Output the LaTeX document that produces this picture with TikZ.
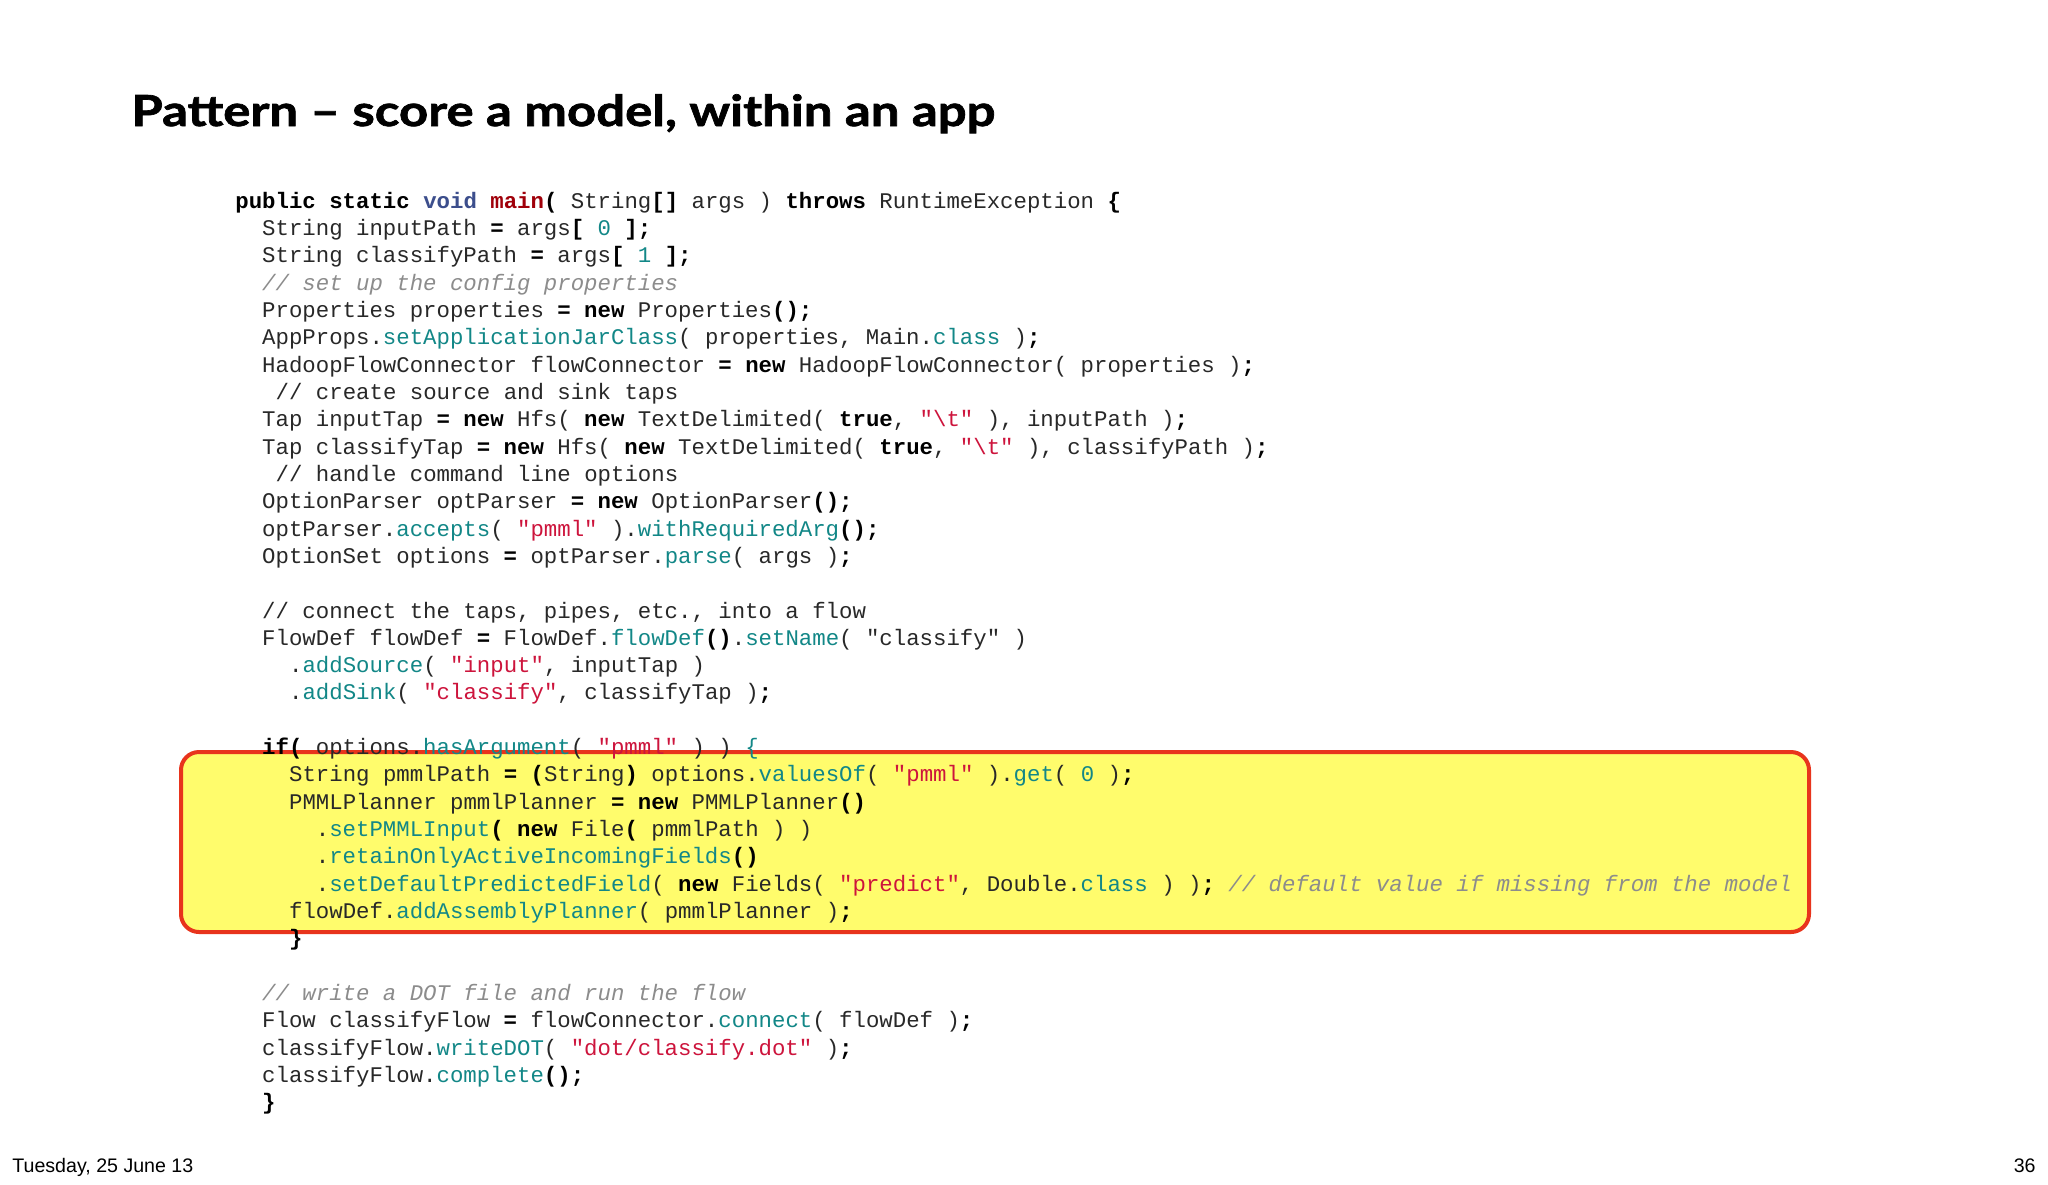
\documentclass[tikz,border=0pt]{standalone}
\usepackage{fontspec}
\setmainfont{Liberation Sans}
\setmonofont{Liberation Mono}
\newfontfamily\titlefont[FakeStretch=1.19, BoldFeatures={FakeBold=1.6}]{Lato}
\usepackage{tikz}

\definecolor{codetext}{RGB}{40,40,40}
\definecolor{codeteal}{RGB}{18,135,135}
\definecolor{codered}{RGB}{205,20,60}
\definecolor{codecmt}{RGB}{140,140,140}
\definecolor{codevoid}{RGB}{60,78,140}
\definecolor{codemain}{RGB}{160,0,10}
\definecolor{boxfill}{RGB}{255,252,108}
\definecolor{boxline}{RGB}{232,52,28}

\newcommand{\ckw}[1]{\textbf{\color{black}#1}}
\newcommand{\cp}[1]{\textbf{\color{black}#1}}
\newcommand{\cfn}[1]{\textcolor{codeteal}{#1}}
\newcommand{\cnum}[1]{\textcolor{codeteal}{#1}}
\newcommand{\cstr}[1]{\textcolor{codered}{#1}}
\newcommand{\ccmt}[1]{\textcolor{codecmt}{\itshape #1}}

\begin{document}
\begin{tikzpicture}[x=0.5pt,y=-0.5pt]
\tikzstyle{code} = [anchor=base west, inner sep=0pt, text=codetext, font=\ttfamily\fontsize{11.18}{13}\selectfont]
\tikzstyle{title} = [anchor=base west, inner sep=0pt, font=\titlefont\bfseries\fontsize{21.4}{24}\selectfont]
\tikzstyle{footer} = [inner sep=0pt, font=\fontsize{9.8}{11}\selectfont]
\tikzstyle{hilite} = [draw=boxline, fill=boxfill, line width=2pt, rounded corners=9pt]

\fill[white] (0,0) rectangle (2048,1184);
\useasboundingbox (0,0) rectangle (2048,1184);

\node[title] (head) at (131,126) {Pattern – score a model, within an app};

\draw[hilite] (181,752) rectangle (1809,932);

\node[code] (l0) at (235,208.0) {\ckw{public static} \textbf{\textcolor{codevoid}{void}} \textbf{\textcolor{codemain}{main}}\cp{(} String\cp{[]} args ) \ckw{throws} RuntimeException \cp{\{}};
\node[code] (l1) at (261.8,235.3) {String inputPath \cp{=} args\cp{[} \cnum{0} \cp{];}};
\node[code] (l2) at (261.8,262.7) {String classifyPath \cp{=} args\cp{[} \cnum{1} \cp{];}};
\node[code] (l3) at (261.8,290.0) {\ccmt{// set up the config properties}};
\node[code] (l4) at (261.8,317.3) {Properties properties \cp{=} \ckw{new} Properties\cp{();}};
\node[code] (l5) at (261.8,344.7) {AppProps.\cfn{setApplicationJarClass}( properties, Main.\cfn{class} )\cp{;}};
\node[code] (l6) at (261.8,372.0) {HadoopFlowConnector flowConnector \cp{=} \ckw{new} HadoopFlowConnector( properties )\cp{;}};
\node[code] (l7) at (275.3,399.3) {// create source and sink taps};
\node[code] (l8) at (261.8,426.6) {Tap inputTap \cp{=} \ckw{new} Hfs( \ckw{new} TextDelimited( \ckw{true}, \cstr{"\textbackslash t"} ), inputPath )\cp{;}};
\node[code] (l9) at (261.8,454.0) {Tap classifyTap \cp{=} \ckw{new} Hfs( \ckw{new} TextDelimited( \ckw{true}, \cstr{"\textbackslash t"} ), classifyPath )\cp{;}};
\node[code] (l10) at (275.3,481.3) {// handle command line options};
\node[code] (l11) at (261.8,508.6) {OptionParser optParser \cp{=} \ckw{new} OptionParser\cp{();}};
\node[code] (l12) at (261.8,536.0) {optParser.\cfn{accepts}( \cstr{"pmml"} ).\cfn{withRequiredArg}\cp{();}};
\node[code] (l13) at (261.8,563.3) {OptionSet options \cp{=} optParser.\cfn{parse}( args )\cp{;}};

\node[code] (l15) at (261.8,618.0) {// connect the taps, pipes, etc., into a flow};
\node[code] (l16) at (261.8,645.3) {FlowDef flowDef \cp{=} FlowDef.\cfn{flowDef}\cp{()}.\cfn{setName}( "classify" )};
\node[code] (l17) at (288.7,672.6) {.\cfn{addSource}( \cstr{"input"}, inputTap )};
\node[code] (l18) at (288.7,699.9) {.\cfn{addSink}( \cstr{"classify"}, classifyTap )\cp{;}};

\node[code] (l20) at (261.8,754.6) {\ckw{if}\cp{(} options.\cfn{hasArgument}( \cstr{"pmml"} ) ) \cfn{\{}};
\node[code] (l21) at (288.7,781.9) {String pmmlPath \cp{=} \cp{(}String\cp{)} options.\cfn{valuesOf}( \cstr{"pmml"} ).\cfn{get}( \cnum{0} )\cp{;}};
\node[code] (l22) at (288.7,809.3) {PMMLPlanner pmmlPlanner \cp{=} \ckw{new} PMMLPlanner\cp{()}};
\node[code] (l23) at (315.5,836.6) {.\cfn{setPMMLInput}\cp{(} \ckw{new} File\cp{(} pmmlPath ) )};
\node[code] (l24) at (315.5,863.9) {.\cfn{retainOnlyActiveIncomingFields}\cp{()}};
\node[code] (l25) at (315.5,891.3) {.\cfn{setDefaultPredictedField}( \ckw{new} Fields( \cstr{"predict"}, Double.\cfn{class} ) )\cp{;} \ccmt{// default value if missing from the model}};
\node[code] (l26) at (288.7,918.6) {flowDef.\cfn{addAssemblyPlanner}( pmmlPlanner )\cp{;}};
\node[code] (l27) at (288.7,945.9) {\cp{\}}};

\node[code] (l29) at (261.8,1000.6) {\ccmt{// write a DOT file and run the flow}};
\node[code] (l30) at (261.8,1027.9) {Flow classifyFlow \cp{=} flowConnector.\cfn{connect}( flowDef )\cp{;}};
\node[code] (l31) at (261.8,1055.2) {classifyFlow.\cfn{writeDOT}( \cstr{"dot/classify.dot"} )\cp{;}};
\node[code] (l32) at (261.8,1082.6) {classifyFlow.\cfn{complete}\cp{();}};
\node[code] (l33) at (261.8,1109.9) {\cp{\}}};

\node[footer, anchor=base west] (date) at (12,1172.7) {Tuesday, 25 June 13};
\node[footer, anchor=base east] (page) at (2036,1172.7) {36};
\end{tikzpicture}
\end{document}
